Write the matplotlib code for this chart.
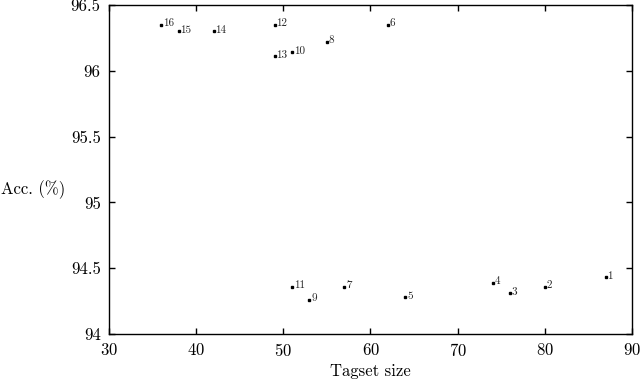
import matplotlib.pyplot as plt

plt.rcParams['font.family'] = 'cmr10'
plt.rcParams['mathtext.fontset'] = 'cm'
plt.rcParams['axes.formatter.use_mathtext'] = True

tagset_size = [87, 80, 76, 74, 64, 62, 57, 55, 53, 51, 51, 49, 49, 42, 38, 36]
accuracy = [94.43, 94.36, 94.31, 94.39, 94.28, 96.35, 94.36, 96.22,
            94.26, 96.14, 94.36, 96.35, 96.11, 96.30, 96.30, 96.35]
point_labels = [str(i) for i in range(1, 17)]
x_ticks = [30, 40, 50, 60, 70, 80, 90]
y_ticks = [94, 94.5, 95, 95.5, 96, 96.5]
y_tick_labels = ['94', '94.5', '95', '95.5', '96', '96.5']

fig = plt.figure(figsize=(6.4, 3.82), dpi=100)
ax = fig.add_axes([0.1703, 0.1257, 0.8172, 0.8612])

ax.plot(tagset_size, accuracy, linestyle='none', marker='s',
        markersize=1.8, color='black')
for x, y, label in zip(tagset_size, accuracy, point_labels):
    ax.annotate(label, (x, y), xytext=(1.2, 1.0), textcoords='offset points',
                fontsize=8, ha='left', va='center', color='#222222')

ax.set_xlim(30, 90)
ax.set_ylim(94, 96.5)
ax.set_xticks(x_ticks)
ax.set_yticks(y_ticks)
ax.set_yticklabels(y_tick_labels)
ax.tick_params(direction='in', length=4.5, width=1, top=True, right=True,
               labelsize=12, pad=6)
for spine in ax.spines.values():
    spine.set_linewidth(1)

ax.set_xlabel('Tagset size', fontsize=12, labelpad=3)
ax.set_ylabel('Acc. (%)', fontsize=12, rotation=0, ha='left', va='center')
ax.yaxis.set_label_coords(-0.207, 0.44)

fig.savefig('out.png', dpi=100)
